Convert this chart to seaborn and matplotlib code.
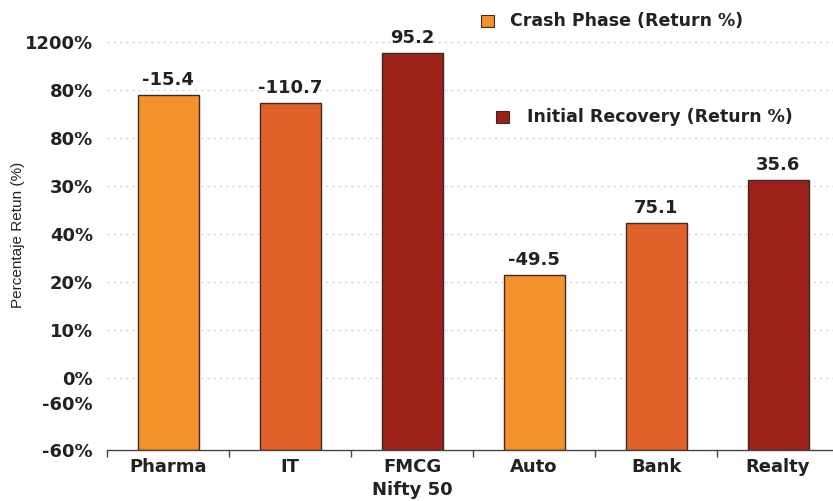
import matplotlib
matplotlib.use("Agg")
import matplotlib.pyplot as plt
from matplotlib.patches import Rectangle
import seaborn as sns
import pandas as pd

# Sector data
sectors = ["Pharma", "IT", "FMCG\nNifty 50", "Auto", "Bank", "Realty"]
bar_heights = [7.40, 7.23, 8.27, 3.65, 4.73, 5.63]
value_labels = ["-15.4", "-110.7", "95.2", "-49.5", "75.1", "35.6"]
bar_colors = ["#F3922B", "#E0612A", "#9C2219", "#F3922B", "#E0612A", "#9C2219"]

# Y axis tick positions and their labels
ytick_pos = [0, 0.98, 1.5, 2.5, 3.5, 4.5, 5.5, 6.5, 7.5, 8.5]
ytick_labels = ["-60%", "-60%", "0%", "10%", "20%", "40%", "30%", "80%", "80%", "1200%"]

legend_labels = ["Crash Phase (Return %)", "Initial Recovery (Return %)"]
legend_colors = ["#F3922B", "#9C2219"]

sns.set_theme(style="white")
plt.rcParams["font.family"] = ["DejaVu Sans"]

TXT = "#222222"
df = pd.DataFrame({"sector": sectors, "height": bar_heights})

W, H = 833, 501
fig = plt.figure(figsize=(W / 100, H / 100), dpi=100)
ax = fig.add_axes([107 / W, 1 - 450 / H, 726 / W, 432 / H])

# dotted grid lines behind bars
for y in ytick_pos[2:]:
    ax.axhline(y, color="#d2d2d2", lw=1.0, ls=(0, (1.5, 3)), zorder=0)

sns.barplot(data=df, x="sector", y="height", hue="sector", palette=bar_colors,
            saturation=1, width=0.5, edgecolor="#3b2a22", linewidth=1.0,
            legend=False, ax=ax, zorder=2)

for i, (h, lab) in enumerate(zip(bar_heights, value_labels)):
    ax.text(i, h + 0.12, lab, ha="center", va="bottom", fontsize=13,
            fontweight="bold", color=TXT)

ax.set_xlim(-0.5, 5.45)
ax.set_ylim(0, 9)
ax.set_yticks(ytick_pos)
ax.set_yticklabels(ytick_labels, fontsize=13, fontweight="bold", color=TXT)
ax.tick_params(axis="y", length=0, pad=10)
ax.set_xticks(range(len(sectors)))
ax.set_xticklabels(sectors, fontsize=13, fontweight="bold", color=TXT,
                   linespacing=1.3)
ax.set_xticks([-0.5, 0.5, 1.5, 2.5, 3.5, 4.5], minor=True)
ax.tick_params(axis="x", which="major", length=0, pad=6)
ax.tick_params(axis="x", which="minor", length=5, width=1, color="#444444",
               direction="out", bottom=True)
ax.set_xlabel("")
ax.set_ylabel("")

for s in ["top", "right", "left"]:
    ax.spines[s].set_visible(False)
ax.spines["bottom"].set_color("#444444")
ax.spines["bottom"].set_linewidth(1.0)

fig.text(18 / W, 1 - 235 / H, "Percentaje Retun (%)", rotation=90,
         ha="center", va="center", fontsize=11, color=TXT,
         family=["Liberation Sans", "DejaVu Sans"])

# legend entries
legend_pos = [(481, 21, 510), (496, 117, 527)]
for (sx, sy, tx), lab, col in zip(legend_pos, legend_labels, legend_colors):
    fig.add_artist(Rectangle((sx / W, 1 - (sy + 6) / H), 13 / W, 12 / H,
                             transform=fig.transFigure, facecolor=col,
                             edgecolor="#3b2a22", linewidth=0.8, zorder=10))
    fig.text(tx / W, 1 - sy / H, lab, ha="left", va="center", fontsize=12.5,
             fontweight="bold", color=TXT, zorder=10)

fig.savefig("out.png", dpi=100)
